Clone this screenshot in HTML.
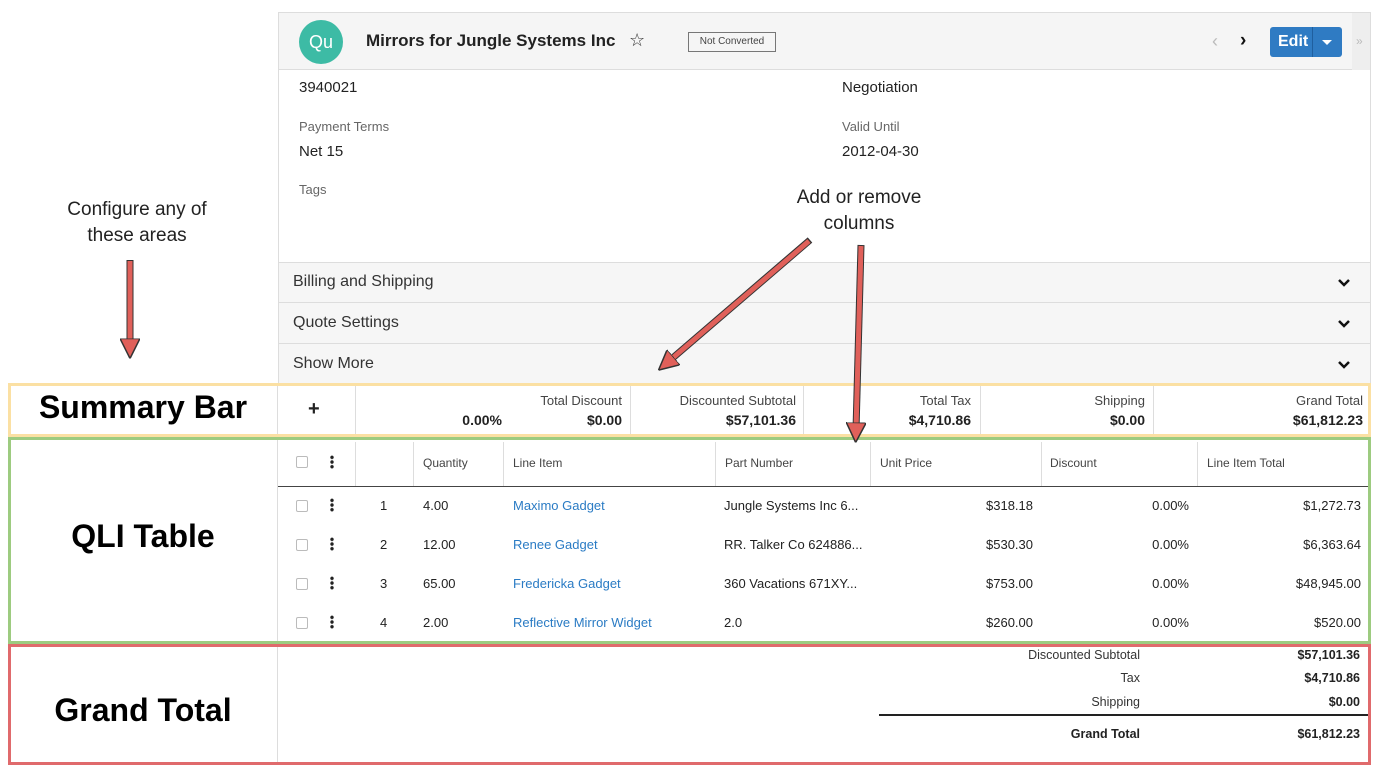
<!DOCTYPE html>
<html><head><style>
*{margin:0;padding:0;box-sizing:border-box}
body{width:1380px;height:774px;background:#fff;position:relative;overflow:hidden;font-family:"Liberation Sans","DejaVu Sans",sans-serif;color:#222}
.a{position:absolute;white-space:nowrap}
.s13{font-size:13px}
.g{color:#666}
.r{text-align:right}
.lnk{color:#2a7bc4}
.big{font-size:32px;font-weight:bold;color:#000;text-align:center;width:278px;left:4px}
.cb{position:absolute;width:12px;height:12px;border:1px solid #bbb;border-radius:2px;background:#fff}
.dots{position:absolute;width:4px;height:14px;background:radial-gradient(circle,#222 1.6px,transparent 1.9px) 0 0/4px 4.7px}
.vl{position:absolute;width:1px;background:#ddd}
.hl{position:absolute;height:1px;background:#ddd}
</style></head><body>
<div class="a" style="left:278px;top:12px;width:1093px;height:372px;border:1px solid #ddd;border-bottom:none;background:#fff"></div>
<div class="a" style="left:279px;top:13px;width:1073px;height:57px;background:#f5f5f5;border-bottom:1px solid #ddd"></div>
<div class="a" style="left:1352px;top:13px;width:18px;height:57px;background:#eee"></div>
<div class="a" style="left:1356px;top:34px;color:#bbb;font-size:12px">»</div>
<div class="a" style="left:299px;top:20px;width:44px;height:44px;border-radius:50%;background:#3dbba5;color:#fff;font-size:18px;line-height:44px;text-align:center">Qu</div>
<div class="a" style="left:366px;top:31px;font-size:17px;font-weight:bold;color:#222">Mirrors for Jungle Systems Inc</div>
<div class="a" style="left:629px;top:30px;font-size:18px;color:#333">☆</div>
<div class="a" style="left:688px;top:32px;width:88px;height:20px;border:1px solid #777;font-size:10px;line-height:18px;text-align:center;color:#444">Not Converted</div>
<div class="a" style="left:1212px;top:31px;font-size:18px;color:#bbb">‹</div>
<div class="a" style="left:1240px;top:30px;font-size:19px;font-weight:bold;color:#111">›</div>
<div class="a" style="left:1270px;top:27px;width:72px;height:30px;background:#2f7bc3;border-radius:3px;color:#fff;font-weight:bold;font-size:16px;line-height:30px;padding-left:8px">Edit</div>
<div class="a" style="left:1312px;top:27px;width:1px;height:30px;background:#1f5f9f"></div>
<div class="a" style="left:1322px;top:40px;width:0;height:0;border-left:5px solid transparent;border-right:5px solid transparent;border-top:5px solid #fff"></div>
<div class="a" style="left:299px;top:79px;font-size:15px">3940021</div>
<div class="a" style="left:842px;top:79px;font-size:15px">Negotiation</div>
<div class="a s13 g" style="left:299px;top:119px">Payment Terms</div>
<div class="a s13 g" style="left:842px;top:119px">Valid Until</div>
<div class="a" style="left:299px;top:143px;font-size:15px">Net 15</div>
<div class="a" style="left:842px;top:143px;font-size:15px">2012-04-30</div>
<div class="a s13 g" style="left:299px;top:182px">Tags</div>
<div class="a" style="left:279px;top:262px;width:1091px;height:122px;background:#f6f6f6"></div>
<div class="hl" style="left:279px;top:262px;width:1091px;background:#ddd"></div>
<div class="hl" style="left:279px;top:302px;width:1091px;background:#ddd"></div>
<div class="hl" style="left:279px;top:343px;width:1091px;background:#ddd"></div>
<div class="a" style="left:293px;top:273px;font-size:16px;color:#333">Billing and Shipping</div>
<div class="a" style="left:293px;top:314px;font-size:16px;color:#333">Quote Settings</div>
<div class="a" style="left:293px;top:355px;font-size:16px;color:#333">Show More</div>
<svg class="a" style="left:1337px;top:278px" width="14" height="10"><path d="M2,2 L7,7 L12,2" stroke="#111" stroke-width="2.5" fill="none"/></svg>
<svg class="a" style="left:1337px;top:319px" width="14" height="10"><path d="M2,2 L7,7 L12,2" stroke="#111" stroke-width="2.5" fill="none"/></svg>
<svg class="a" style="left:1337px;top:360px" width="14" height="10"><path d="M2,2 L7,7 L12,2" stroke="#111" stroke-width="2.5" fill="none"/></svg>

<div class="a" style="left:8px;top:383px;width:1363px;height:54px;border:3px solid #fbe0a3"></div>
<div class="vl" style="left:277px;top:386px;height:48px"></div>
<div class="vl" style="left:355px;top:386px;height:48px"></div>
<div class="vl" style="left:630px;top:386px;height:48px"></div>
<div class="vl" style="left:803px;top:386px;height:48px"></div>
<div class="vl" style="left:980px;top:386px;height:48px"></div>
<div class="vl" style="left:1153px;top:386px;height:48px"></div>
<div class="a big" style="top:389px">Summary Bar</div>
<div class="a" style="left:308px;top:398px;font-size:20px;font-weight:bold">+</div>
<div class="a r" style="left:380px;top:412px;width:122px;font-weight:bold;font-size:14px">0.00%</div>
<div class="a r s13" style="left:500px;top:393px;width:122px;color:#444">Total Discount</div>
<div class="a r" style="left:500px;top:412px;width:122px;font-weight:bold;font-size:14px">$0.00</div>
<div class="a r s13" style="left:640px;top:393px;width:156px;color:#444">Discounted Subtotal</div>
<div class="a r" style="left:640px;top:412px;width:156px;font-weight:bold;font-size:14px">$57,101.36</div>
<div class="a r s13" style="left:820px;top:393px;width:151px;color:#444">Total Tax</div>
<div class="a r" style="left:820px;top:412px;width:151px;font-weight:bold;font-size:14px">$4,710.86</div>
<div class="a r s13" style="left:1000px;top:393px;width:145px;color:#444">Shipping</div>
<div class="a r" style="left:1000px;top:412px;width:145px;font-weight:bold;font-size:14px">$0.00</div>
<div class="a r s13" style="left:1170px;top:393px;width:193px;color:#444">Grand Total</div>
<div class="a r" style="left:1170px;top:412px;width:193px;font-weight:bold;font-size:14px">$61,812.23</div>

<div class="a" style="left:8px;top:437px;width:1363px;height:207px;border:3px solid #9dcb80"></div>
<div class="vl" style="left:277px;top:440px;height:201px"></div>
<div class="a big" style="top:518px">QLI Table</div>
<div class="vl" style="left:355px;top:442px;height:44px"></div>
<div class="vl" style="left:413px;top:442px;height:44px"></div>
<div class="vl" style="left:503px;top:442px;height:44px"></div>
<div class="vl" style="left:715px;top:442px;height:44px"></div>
<div class="vl" style="left:870px;top:442px;height:44px"></div>
<div class="vl" style="left:1041px;top:442px;height:44px"></div>
<div class="vl" style="left:1197px;top:442px;height:44px"></div>
<div class="hl" style="left:278px;top:486px;width:1090px;background:#444"></div>
<div class="cb" style="left:296px;top:456px"></div><div class="dots" style="left:330px;top:455px"></div>
<div class="a" style="left:423px;top:456px;font-size:12px;color:#444">Quantity</div>
<div class="a" style="left:513px;top:456px;font-size:12px;color:#444">Line Item</div>
<div class="a" style="left:725px;top:456px;font-size:12px;color:#444">Part Number</div>
<div class="a" style="left:880px;top:456px;font-size:12px;color:#444">Unit Price</div>
<div class="a" style="left:1050px;top:456px;font-size:12px;color:#444">Discount</div>
<div class="a" style="left:1207px;top:456px;font-size:12px;color:#444">Line Item Total</div>

<div class="cb" style="left:296px;top:500px"></div><div class="dots" style="left:330px;top:498px"></div>
<div class="a s13" style="left:380px;top:498px">1</div><div class="a s13" style="left:423px;top:498px">4.00</div>
<div class="a s13 lnk" style="left:513px;top:498px">Maximo Gadget</div><div class="a s13" style="left:724px;top:498px">Jungle Systems Inc 6...</div>
<div class="a s13 r" style="left:900px;top:498px;width:133px">$318.18</div><div class="a s13 r" style="left:1060px;top:498px;width:129px">0.00%</div><div class="a s13 r" style="left:1220px;top:498px;width:141px">$1,272.73</div>

<div class="cb" style="left:296px;top:539px"></div><div class="dots" style="left:330px;top:537px"></div>
<div class="a s13" style="left:380px;top:537px">2</div><div class="a s13" style="left:423px;top:537px">12.00</div>
<div class="a s13 lnk" style="left:513px;top:537px">Renee Gadget</div><div class="a s13" style="left:724px;top:537px">RR. Talker Co 624886...</div>
<div class="a s13 r" style="left:900px;top:537px;width:133px">$530.30</div><div class="a s13 r" style="left:1060px;top:537px;width:129px">0.00%</div><div class="a s13 r" style="left:1220px;top:537px;width:141px">$6,363.64</div>

<div class="cb" style="left:296px;top:578px"></div><div class="dots" style="left:330px;top:576px"></div>
<div class="a s13" style="left:380px;top:576px">3</div><div class="a s13" style="left:423px;top:576px">65.00</div>
<div class="a s13 lnk" style="left:513px;top:576px">Fredericka Gadget</div><div class="a s13" style="left:724px;top:576px">360 Vacations 671XY...</div>
<div class="a s13 r" style="left:900px;top:576px;width:133px">$753.00</div><div class="a s13 r" style="left:1060px;top:576px;width:129px">0.00%</div><div class="a s13 r" style="left:1220px;top:576px;width:141px">$48,945.00</div>

<div class="cb" style="left:296px;top:617px"></div><div class="dots" style="left:330px;top:615px"></div>
<div class="a s13" style="left:380px;top:615px">4</div><div class="a s13" style="left:423px;top:615px">2.00</div>
<div class="a s13 lnk" style="left:513px;top:615px">Reflective Mirror Widget</div><div class="a s13" style="left:724px;top:615px">2.0</div>
<div class="a s13 r" style="left:900px;top:615px;width:133px">$260.00</div><div class="a s13 r" style="left:1060px;top:615px;width:129px">0.00%</div><div class="a s13 r" style="left:1220px;top:615px;width:141px">$520.00</div>

<div class="a" style="left:8px;top:644px;width:1363px;height:121px;border:3px solid #e06a6c"></div>
<div class="vl" style="left:277px;top:647px;height:115px"></div>
<div class="a big" style="top:692px">Grand Total</div>
<div class="a r" style="left:900px;top:648px;width:240px;font-size:12.5px;color:#333">Discounted Subtotal</div>
<div class="a r" style="left:1200px;top:648px;width:160px;font-size:12.5px;font-weight:bold">$57,101.36</div>
<div class="a r" style="left:900px;top:671px;width:240px;font-size:12.5px;color:#333">Tax</div>
<div class="a r" style="left:1200px;top:671px;width:160px;font-size:12.5px;font-weight:bold">$4,710.86</div>
<div class="a r" style="left:900px;top:695px;width:240px;font-size:12.5px;color:#333">Shipping</div>
<div class="a r" style="left:1200px;top:695px;width:160px;font-size:12.5px;font-weight:bold">$0.00</div>
<div class="hl" style="left:879px;top:714px;width:489px;height:2px;background:#222"></div>
<div class="a r" style="left:900px;top:727px;width:240px;font-size:12.5px;font-weight:bold">Grand Total</div>
<div class="a r" style="left:1200px;top:727px;width:160px;font-size:12.5px;font-weight:bold">$61,812.23</div>

<div class="a" style="left:37px;top:197px;width:200px;text-align:center;font-size:19px;line-height:26px;white-space:normal">Configure any of<br>these areas</div>
<div class="a" style="left:759px;top:185px;width:200px;text-align:center;font-size:19px;line-height:26px;white-space:normal">Add or remove<br>columns</div>
<svg class="a" style="left:0;top:0" width="1380" height="774">
<defs><marker id="m" markerWidth="4" markerHeight="4" refX="1.5" refY="2" orient="auto" markerUnits="strokeWidth"><path d="M0,0 L4,2 L0,4 z" fill="#e0605a" stroke="#333" stroke-width="0.3"/></marker></defs>
<g stroke="#333" stroke-width="7" fill="none"><line x1="130" y1="260" x2="130" y2="346"/><line x1="810" y1="240" x2="668" y2="362"/><line x1="861" y1="245" x2="856" y2="430"/></g>
<g stroke="#e0605a" stroke-width="5" fill="none"><line x1="130" y1="261" x2="130" y2="346" marker-end="url(#m)"/><line x1="809" y1="241" x2="668" y2="362" marker-end="url(#m)"/><line x1="861" y1="246" x2="856" y2="430" marker-end="url(#m)"/></g>
</svg>
</body></html>
